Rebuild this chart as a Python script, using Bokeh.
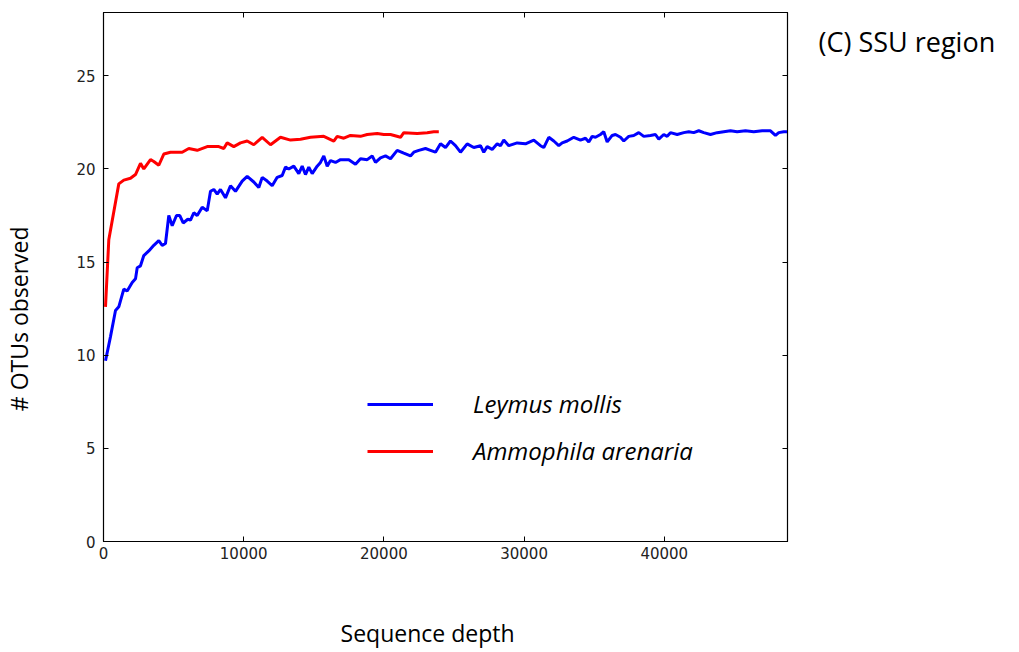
from bokeh.plotting import figure
from bokeh.models import (Range1d, LinearAxis, Legend, LegendItem,
                          FixedTicker, CustomJSTickFormatter)
from bokeh.embed import file_html
from bokeh.resources import INLINE

# ---- data ----
leymus_depth = [143, 499, 856, 1091, 1448, 1690, 2047, 2283, 2404, 2639, 2875, 3231, 3588, 3945,
                4187, 4422, 4658, 4900, 5207, 5443, 5685, 6013, 6206, 6441, 6684, 7040, 7397,
                7632, 7868, 8110, 8345, 8702, 9058, 9415, 9893, 10250, 10721, 11078, 11320,
                11676, 12033, 12390, 12746, 12981, 13217, 13574, 13930, 14172, 14408, 14643,
                14886, 15242, 15478, 15714, 15956, 16191, 16548, 16905, 17497, 17975, 18332,
                18810, 19166, 19402, 19758, 20115, 20472, 20949, 21420, 21898, 22134, 22490,
                22967, 23324, 23681, 24037, 24394, 24750, 25107, 25464, 25941, 26412, 26890,
                27125, 27368, 27724, 28081, 28317, 28552, 28909, 29508, 30100, 30692, 31170,
                31405, 31762, 32118, 32475, 32717, 33074, 33545, 34023, 34380, 34615, 34857,
                35093, 35449, 35685, 35927, 36284, 36519, 36876, 37111, 37468, 37825, 38181,
                38538, 39016, 39372, 39608, 39964, 40207, 40442, 40920, 41391, 41748, 42104,
                42461, 42817, 43295, 43773, 44244, 44722, 45200, 45792, 46384, 46983, 47575,
                47932, 48167, 48524, 48790]
leymus_otus = [9.7, 11.0, 12.4, 12.6, 13.55, 13.45, 13.9, 14.1, 14.7, 14.8, 15.35, 15.6, 15.9, 16.15,
               15.9, 16.0, 17.5, 16.95, 17.5, 17.5, 17.1, 17.3, 17.25, 17.65, 17.5, 17.95, 17.75,
               18.8, 18.9, 18.65, 18.9, 18.45, 19.1, 18.8, 19.35, 19.6, 19.3, 19.0, 19.55,
               19.35, 19.1, 19.55, 19.65, 20.1, 20.0, 20.15, 19.75, 20.15, 19.7, 20.1,
               19.75, 20.15, 20.35, 20.7, 20.15, 20.45, 20.35, 20.5, 20.5, 20.25, 20.55,
               20.5, 20.7, 20.35, 20.6, 20.7, 20.55, 21.0, 20.85, 20.7, 20.9, 21.0,
               21.1, 21.0, 20.9, 21.35, 21.15, 21.5, 21.25, 20.9, 21.35, 21.15, 21.25,
               20.9, 21.2, 21.05, 21.35, 21.25, 21.55, 21.25, 21.4, 21.35, 21.55, 21.25,
               21.15, 21.7, 21.5, 21.25, 21.4, 21.5, 21.7, 21.55, 21.65, 21.45, 21.75,
               21.7, 21.85, 22.0, 21.45, 21.8, 21.85, 21.7, 21.5, 21.75, 21.8, 21.95,
               21.75, 21.8, 21.85, 21.6, 21.85, 21.75, 21.95, 21.85, 21.95, 22.0, 21.95,
               22.05, 21.95, 21.85, 21.95, 22.0, 22.05, 22.0, 22.05, 22.0, 22.05, 22.05,
               21.8, 21.95, 22.0, 22.0]

ammophila_depth = [143, 378, 1091, 1448, 1926, 2283, 2639, 2875, 3353, 3588, 3945, 4301, 4779,
                   5257, 5614, 6085, 6684, 7397, 8224, 8581, 8823, 9294, 9772, 10250, 10721,
                   11320, 11912, 12625, 13339, 14052, 14765, 15714, 16427, 16670, 17141, 17618,
                   18332, 18810, 19523, 19994, 20472, 21185, 21420, 22376, 23090, 23560, 23917]
ammophila_otus = [12.6, 16.2, 19.2, 19.4, 19.5, 19.7, 20.3, 20.0, 20.5, 20.4, 20.2, 20.8, 20.9,
                  20.9, 20.9, 21.1, 21.0, 21.2, 21.2, 21.1, 21.4, 21.2, 21.4, 21.5, 21.3,
                  21.7, 21.3, 21.7, 21.55, 21.6, 21.7, 21.75, 21.5, 21.75, 21.65, 21.8,
                  21.75, 21.85, 21.9, 21.85, 21.85, 21.7, 21.95, 21.9, 21.95, 22.0, 22.0]

x_ticks = [0, 10000, 20000, 30000, 40000]
y_ticks = [0, 5, 10, 15, 20, 25]
series_names = ["Leymus mollis", "Ammophila arenaria"]
x_title = "Sequence depth"
y_title = "# OTUs observed"
panel_title = "(C) SSU region"

X_MAX = 48790
Y_MAX = 28.4
TITLE_Y = 26.85   # vertical position of the panel title, in y units
NBSP = "\u00a0"

p = figure(width=1019, height=652, output_backend="svg", toolbar_location=None,
           x_range=Range1d(0, X_MAX), y_range=Range1d(0, Y_MAX),
           min_border_left=103, min_border_right=232, min_border_top=12, min_border_bottom=111,
           background_fill_color="white", border_fill_color="white")
p.grid.visible = False
p.outline_line_color = "black"
p.outline_line_width = 1.2

label_font = "Open Sans"
tick_font = "DejaVu Sans"
for ax, ticks in ((p.xaxis[0], x_ticks), (p.yaxis[0], y_ticks)):
    ax.ticker = FixedTicker(ticks=ticks)
    ax.major_tick_in = 5
    ax.major_tick_out = 0
    ax.minor_tick_line_color = None
    ax.axis_line_color = "black"
    ax.major_tick_line_color = "black"
    ax.major_label_text_font = tick_font
    ax.major_label_text_font_size = "15px"
    ax.major_label_text_color = "#222222"
    ax.axis_label_text_font = label_font
    ax.axis_label_text_font_style = "normal"
    ax.axis_label_text_color = "black"
    ax.axis_label_text_font_size = "23px"
p.yaxis[0].major_label_standoff = 8
p.xaxis[0].major_label_standoff = 5
# trailing no-break spaces shift the centred titles to where the reference has them
p.xaxis[0].axis_label = x_title + NBSP * 6
p.xaxis[0].axis_label_standoff = 55
p.yaxis[0].axis_label = y_title + NBSP * 14
p.yaxis[0].axis_label_standoff = 38

blank = CustomJSTickFormatter(code="return ''")
top = LinearAxis(ticker=FixedTicker(ticks=x_ticks), formatter=blank,
                 major_tick_in=5, major_tick_out=0, minor_tick_line_color=None,
                 major_label_standoff=0, major_label_text_font_size="1px")
right = LinearAxis(ticker=FixedTicker(ticks=y_ticks), formatter=blank,
                   major_tick_in=5, major_tick_out=0, minor_tick_line_color=None,
                   major_label_standoff=0, major_label_text_font_size="1px")
p.add_layout(top, "above")
p.add_layout(right, "right")

# panel title drawn as the single tick label of an invisible right-hand axis
title_axis = LinearAxis(ticker=FixedTicker(ticks=[TITLE_Y]),
                        formatter=CustomJSTickFormatter(code="return %r" % panel_title),
                        axis_line_color=None, major_tick_line_color=None,
                        minor_tick_line_color=None, major_tick_in=0, major_tick_out=0,
                        major_label_standoff=31, major_label_text_font=label_font,
                        major_label_text_font_size="27px", major_label_text_color="black")
p.add_layout(title_axis, "right")

r_blue = p.line(leymus_depth, leymus_otus, line_color="#0000ff", line_width=3)
r_red = p.line(ammophila_depth, ammophila_otus, line_color="#ff0000", line_width=3)

legend = Legend(items=[LegendItem(label=series_names[0], renderers=[r_blue]),
                       LegendItem(label=series_names[1], renderers=[r_red])],
                location=(264, 74), glyph_width=66, glyph_height=32, label_height=32,
                label_standoff=40, spacing=14, padding=0, margin=0,
                border_line_color=None, background_fill_alpha=0,
                label_text_font=label_font, label_text_font_style="italic",
                label_text_font_size="24px", label_text_color="black")
p.add_layout(legend, "center")

open("out.html", "w").write(file_html(p, INLINE))
